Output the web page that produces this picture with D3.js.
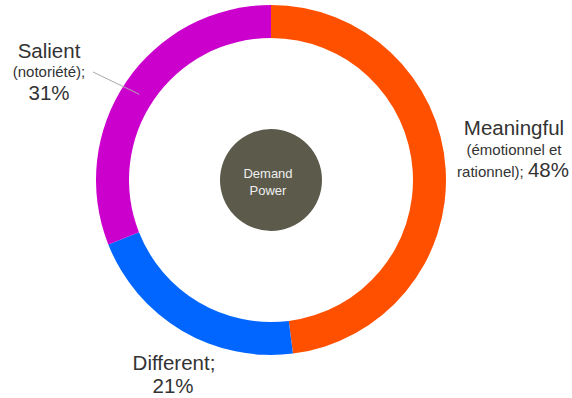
<!DOCTYPE html>
<html>
<head>
<meta charset="utf-8">
<script src="https://cdn.jsdelivr.net/npm/d3@7"></script>
<style>
  html, body { margin: 0; padding: 0; background: #fff; }
  svg { display: block; font-family: "Liberation Sans", Arial, sans-serif; }
</style>
</head>
<body>
<svg id="chart" width="572" height="398"></svg>
<script>
// Demand Power breakdown
const categories = ["Meaningful", "Different", "Salient"];
const values = [48, 21, 31];
const colors = ["#ff5000", "#0066ff", "#cc00cc"];

const svg = d3.select("#chart");
const cx = 271, cy = 180;
const outerR = 175, innerR = 142;

const pie = d3.pie().sort(null).value(d => d.value);
const arcs = pie(categories.map((c, i) => ({ name: c, value: values[i], color: colors[i] })));
const arc = d3.arc().innerRadius(innerR).outerRadius(outerR);

const g = svg.append("g").attr("transform", `translate(${cx},${cy})`);
g.selectAll("path")
  .data(arcs)
  .join("path")
  .attr("d", arc)
  .attr("fill", d => d.data.color);

// centre disc
g.append("circle").attr("r", 51).attr("fill", "#5b5a4b");
g.append("text").attr("x", -3).attr("y", -2).attr("text-anchor", "middle")
  .attr("fill", "#f0f0f0").attr("font-size", 13).text("Demand");
g.append("text").attr("x", -3).attr("y", 15).attr("text-anchor", "middle")
  .attr("fill", "#f0f0f0").attr("font-size", 13).text("Power");

const txt = "#333333";
const big = 20.5, small = 15;

// leader line for Salient
const sal = arcs[2];
const midA = (sal.startAngle + sal.endAngle) / 2;
svg.append("polyline")
  .attr("points", `93,72 ${cx + Math.sin(midA - 0.02) * 157},${cy - Math.cos(midA - 0.02) * 157}`)
  .attr("fill", "none").attr("stroke", "#aaaaaa").attr("stroke-width", 1);

// Salient label
svg.append("text").attr("x", 49).attr("y", 58).attr("text-anchor", "middle")
  .attr("fill", txt).attr("font-size", big).text(categories[2]);
svg.append("text").attr("x", 49).attr("y", 77).attr("text-anchor", "middle")
  .attr("fill", txt).attr("font-size", small).text("(notoriété);");
svg.append("text").attr("x", 49).attr("y", 100).attr("text-anchor", "middle")
  .attr("fill", txt).attr("font-size", big).text(values[2] + "%");

// Meaningful label
svg.append("text").attr("x", 514).attr("y", 135).attr("text-anchor", "middle")
  .attr("fill", txt).attr("font-size", big).text(categories[0]);
svg.append("text").attr("x", 514).attr("y", 155).attr("text-anchor", "middle")
  .attr("fill", txt).attr("font-size", small).text("(émotionnel et");
const last = svg.append("text").attr("x", 513).attr("y", 177).attr("text-anchor", "middle")
  .attr("fill", txt);
last.append("tspan").attr("font-size", small).text("rationnel); ");
last.append("tspan").attr("font-size", big).text(values[0] + "%");

// Different label
svg.append("text").attr("x", 174).attr("y", 370).attr("text-anchor", "middle")
  .attr("fill", txt).attr("font-size", big).text(categories[1] + ";");
svg.append("text").attr("x", 173).attr("y", 393).attr("text-anchor", "middle")
  .attr("fill", txt).attr("font-size", big).text(values[1] + "%");
</script>
</body>
</html>
